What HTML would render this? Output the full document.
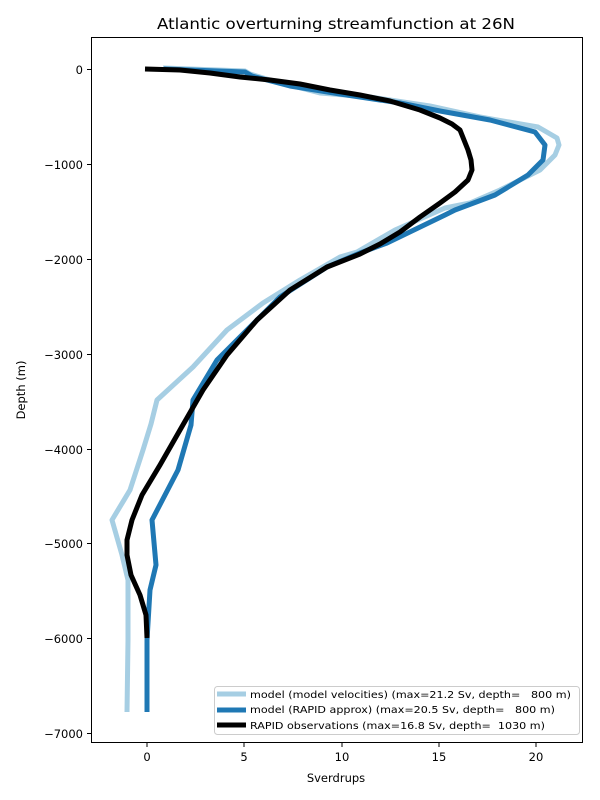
<!DOCTYPE html>
<html><head><style>body{margin:0;background:#fff}svg{display:block;font-family:"DejaVu Sans","Liberation Sans",sans-serif}</style></head><body>
<svg width="600" height="800" viewBox="0 0 600 800">
<rect width="600" height="800" fill="#fff"/>
<text x="157" y="29" font-size="15" textLength="358" lengthAdjust="spacingAndGlyphs">Atlantic overturning streamfunction at 26N</text>
<g fill="none" stroke-linejoin="round" stroke-linecap="butt" stroke-width="5">
<polyline stroke="#a6cee3" points="163,68 245,71 250,74 270,80 320,93 370,97 430,106 480,117 538,127 557,138 559,145 555,155 540,170 500,190 470,203 445,208 395,230 357,252 340,257 300,280 263,303 227,330 193,367 157,400 151,424 143,450 130,490 112,520 122,555 128,580 128,640 127,712"/>
<polyline stroke="#1f78b4" points="164,69 245,72 252,76 290,86 340,94 400,103 440,111 490,120 535,132 545,145 543,160 528,175 495,195 455,210 445,215 387,243 360,253 327,267 280,297 247,330 217,360 193,400 191,425 178,470 152,520 156,565 150,590 147,640 147,712"/>
<polyline stroke="#000" points="145,69 180,70 210,73 240,77 270,80 300,84 330,90 360,95 390,101 420,110 440,118 452,124 460,130 464,140 468,150 471,160 472,170 468,180 455,192 440,203 420,217 400,232 380,244 360,254 327,267 290,290 257,320 227,355 203,390 180,430 160,465 142,495 132,520 127,540 127,555 131,575 140,595 146,615 147,638"/>
</g>
<rect x="91.5" y="37.5" width="491" height="705" fill="none" stroke="#000" stroke-width="1"/>
<g stroke="#000" stroke-width="1">
<line x1="147" y1="743" x2="147" y2="747"/><line x1="244" y1="743" x2="244" y2="747"/><line x1="342" y1="743" x2="342" y2="747"/><line x1="439" y1="743" x2="439" y2="747"/><line x1="536" y1="743" x2="536" y2="747"/>
<line x1="87" y1="69.5" x2="91" y2="69.5"/><line x1="87" y1="164.5" x2="91" y2="164.5"/><line x1="87" y1="259.5" x2="91" y2="259.5"/><line x1="87" y1="354.5" x2="91" y2="354.5"/><line x1="87" y1="449.5" x2="91" y2="449.5"/><line x1="87" y1="543.5" x2="91" y2="543.5"/><line x1="87" y1="638.5" x2="91" y2="638.5"/><line x1="87" y1="733.5" x2="91" y2="733.5"/>
</g>
<g font-size="11.5" text-anchor="middle">
<text x="147" y="761">0</text><text x="244" y="761">5</text><text x="342" y="761">10</text><text x="439" y="761">15</text><text x="536" y="761">20</text>
<text x="336" y="782">Sverdrups</text>
</g>
<g font-size="11.5" text-anchor="end">
<text x="83" y="74">0</text><text x="83" y="169">−1000</text><text x="83" y="264">−2000</text><text x="83" y="359">−3000</text><text x="83" y="454">−4000</text><text x="83" y="548">−5000</text><text x="83" y="643">−6000</text><text x="83" y="738">−7000</text>
</g>
<text transform="translate(25,390) rotate(-90)" font-size="11.5" text-anchor="middle">Depth (m)</text>
<rect x="214.5" y="686.5" width="365" height="48" rx="3" fill="#fff" stroke="#ccc"/>
<g stroke-width="5"><line x1="217" y1="694" x2="246" y2="694" stroke="#a6cee3"/><line x1="217" y1="710" x2="246" y2="710" stroke="#1f78b4"/><line x1="217" y1="725" x2="246" y2="725" stroke="#000"/></g>
<g font-size="9.5">
<text x="250" y="698" textLength="321" lengthAdjust="spacingAndGlyphs">model (model velocities) (max=21.2 Sv, depth=&#160;&#160;&#160;800 m)</text>
<text x="250" y="713" textLength="305" lengthAdjust="spacingAndGlyphs">model (RAPID approx) (max=20.5 Sv, depth=&#160;&#160;&#160;800 m)</text>
<text x="250" y="729" textLength="295" lengthAdjust="spacingAndGlyphs">RAPID observations (max=16.8 Sv, depth=&#160;&#160;1030 m)</text>
</g>
</svg>
</body></html>
